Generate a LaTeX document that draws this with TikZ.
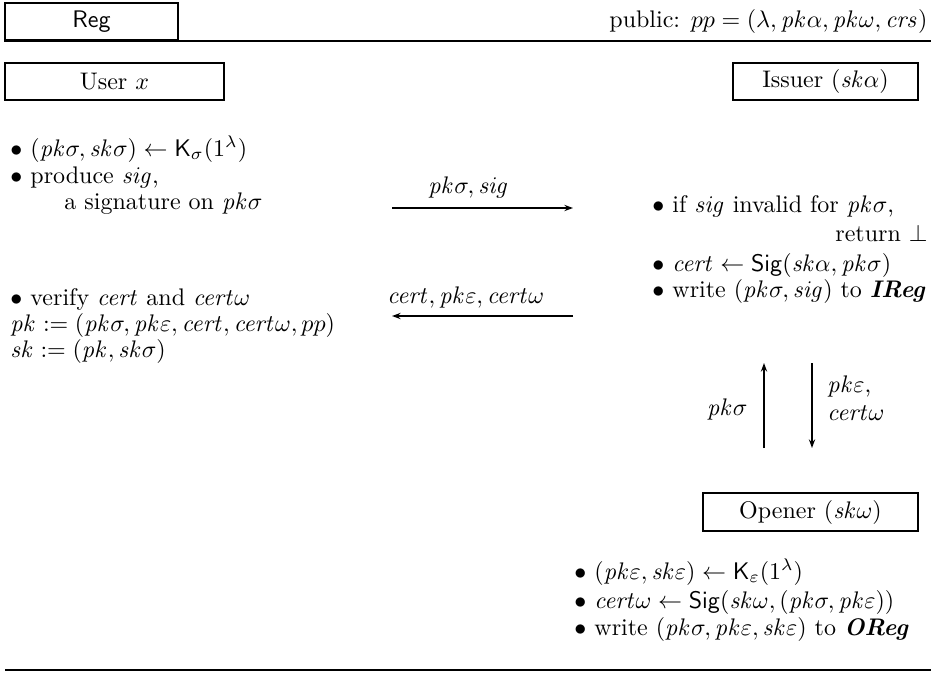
\documentclass[tikz,border=0pt]{standalone}
\usetikzlibrary{arrows.meta}
\begin{document}
\begin{tikzpicture}[x=0.4167pt,y=-0.4167pt,
  box/.style={draw,line width=0.8pt,inner sep=0pt,minimum height=15.4pt},
  txt/.style={inner sep=0pt,anchor=base west},
  txr/.style={inner sep=0pt,anchor=base east},
  msg/.style={line width=0.6pt,-{Stealth[length=3.6pt,width=2.6pt]}},
  rulel/.style={line width=0.8pt}]
\useasboundingbox (0,0) rectangle (931,684);
% header
\node[box,minimum width=72.1pt,font=\sffamily] (reg) at (91.5,21.5) {Reg};
\coordinate (rr) at (931,40);
\draw[rulel] (reg.south west) -- (reg.south west -| rr);
\node[txr] (pub) at (928,28) {public: $pp=(\lambda,\mathit{pk}\alpha,\mathit{pk}\omega,\mathit{crs})$};
% parties
\node[box,minimum width=91.3pt] (user) at (114.5,81.5) {User $x$};
\node[box,minimum width=77.1pt] (issuer) at (825.5,81.5) {Issuer $(\mathit{sk}\alpha)$};
% user steps
\node[txt] (u1) at (10,156) {$\bullet$ $(\mathit{pk}\sigma,\mathit{sk}\sigma)\leftarrow\mathsf{K}_\sigma(1^\lambda)$};
\node[txt] (u2) at (10,183) {$\bullet$ produce $\mathit{sig}$,};
\node[txt] (u3) at (64,209) {a signature on $\mathit{pk}\sigma$};
% message 1
\coordinate (m1s) at (392,208);
\coordinate (m1e) at (573,208);
\draw[msg] (m1s) -- (m1e);
\node[txt] (l1) at (428,193) {$\mathit{pk}\sigma,\mathit{sig}$};
% issuer steps
\node[txt] (i1) at (652,212) {$\bullet$ if $\mathit{sig}$ invalid for $\mathit{pk}\sigma$,};
\node[txr] (i2) at (928,241) {return $\bot$};
\node[txt] (i3) at (652,271) {$\bullet$ $\mathit{cert}\leftarrow\mathsf{Sig}(\mathit{sk}\alpha,\mathit{pk}\sigma)$};
\node[txt] (i4) at (652,297) {$\bullet$ write $(\mathit{pk}\sigma,\mathit{sig})$ to \textbf{\textit{IReg}}};
% message 2
\coordinate (m2s) at (573,316);
\coordinate (m2e) at (392,316);
\draw[msg] (m2s) -- (m2e);
\node[txt] (l2) at (387,303) {$\mathit{cert},\mathit{pk}\varepsilon,\mathit{cert}\omega$};
% user final
\node[txt] (u4) at (10,305) {$\bullet$ verify $\mathit{cert}$ and $\mathit{cert}\omega$};
\node[txt] (u5) at (10,331) {$\mathit{pk}:=(\mathit{pk}\sigma,\mathit{pk}\varepsilon,\mathit{cert},\mathit{cert}\omega,pp)$};
\node[txt] (u6) at (10,357) {$\mathit{sk}:=(\mathit{pk},\mathit{sk}\sigma)$};
% vertical messages
\coordinate (vub) at (764,448);
\coordinate (vut) at (764,363);
\coordinate (vdt) at (812,363);
\coordinate (vdb) at (812,448);
\draw[msg] (vub) -- (vut);
\draw[msg] (vdt) -- (vdb);
\node[txr] (v1) at (748,415) {$\mathit{pk}\sigma$};
\node[txt] (v2) at (827,392) {$\mathit{pk}\varepsilon$,};
\node[txt] (v3) at (827,420) {$\mathit{cert}\omega$};
% opener
\node[box,minimum width=89.6pt,minimum height=15.8pt] (opener) at (810.5,512) {Opener $(\mathit{sk}\omega)$};
\node[txt] (o1) at (574,579) {$\bullet$ $(\mathit{pk}\varepsilon,\mathit{sk}\varepsilon)\leftarrow\mathsf{K}_\varepsilon(1^\lambda)$};
\node[txt] (o2) at (574,608) {$\bullet$ $\mathit{cert}\omega\leftarrow\mathsf{Sig}(\mathit{sk}\omega,(\mathit{pk}\sigma,\mathit{pk}\varepsilon))$};
\node[txt] (o3) at (574,635) {$\bullet$ write $(\mathit{pk}\sigma,\mathit{pk}\varepsilon,\mathit{sk}\varepsilon)$ to \textbf{\textit{OReg}}};
% bottom rule
\coordinate (bl) at (5,670);
\coordinate (br) at (931,670);
\draw[rulel] (bl) -- (br);
\end{tikzpicture}
\end{document}
